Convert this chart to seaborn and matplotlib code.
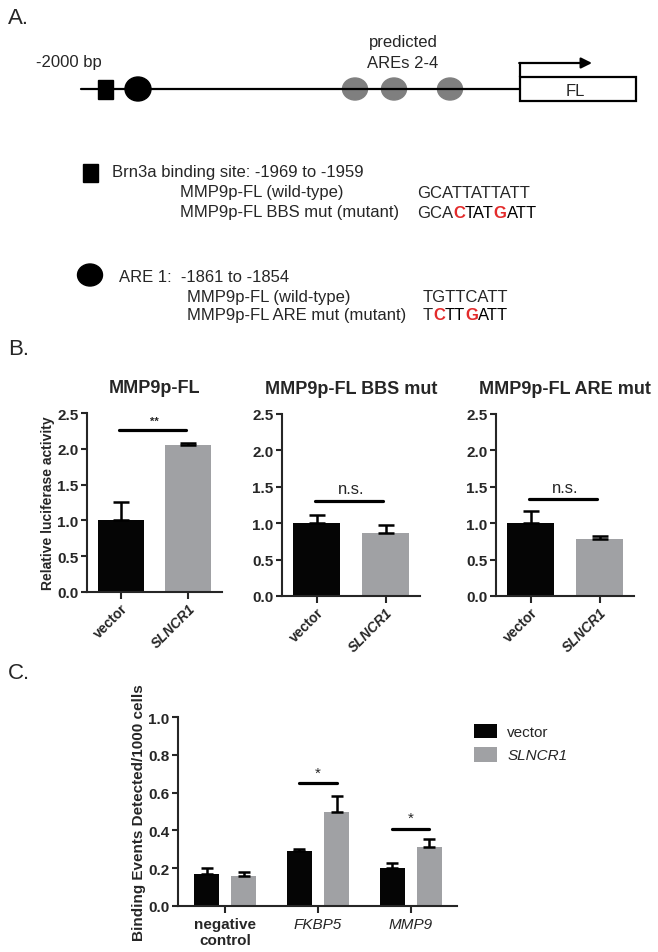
import numpy as np
import pandas as pd
import matplotlib
matplotlib.use('Agg')
import matplotlib.pyplot as plt
from matplotlib.patches import Rectangle, Ellipse
import seaborn as sns

# ---- data ----
groups = ['vector', 'SLNCR1']
panel_titles = ['MMP9p-FL', 'MMP9p-FL BBS mut', 'MMP9p-FL ARE mut']

fl_mean  = [1.00, 2.05]
fl_err   = [0.26, 0.03]
bbs_mean = [1.00, 0.86]
bbs_err  = [0.11, 0.12]
are_mean = [1.00, 0.78]
are_err  = [0.17, 0.04]

b_sig_y    = [2.26, 1.31, 1.33]
b_sig_text = ['**', 'n.s.', 'n.s.']

targets   = ['negative\ncontrol', 'FKBP5', 'MMP9']
vec_mean  = [0.17, 0.29, 0.20]
vec_err   = [0.03, 0.01, 0.03]
sl_mean   = [0.16, 0.50, 0.31]
sl_err    = [0.02, 0.08, 0.045]
c_sig_y   = [None, 0.65, 0.41]

BLACK = '#050505'
GREY = '#a0a1a4'
RED = '#e32b2b'

sns.set_style('ticks')
plt.rcParams['font.family'] = ['Liberation Sans', 'DejaVu Sans']
plt.rcParams['axes.linewidth'] = 1.5

W, H = 658, 953
fig = plt.figure(figsize=(W / 100, H / 100), dpi=100)


def px_axes(left, top, right, bottom):
    return fig.add_axes([left / W, 1 - bottom / H, (right - left) / W, (bottom - top) / H])


def add_errbars(ax, container, errs, cap):
    xs = [p.get_x() + p.get_width() / 2 for p in container]
    ys = [p.get_height() for p in container]
    ax.errorbar(xs, ys, yerr=[np.zeros(len(errs)), errs], fmt='none',
                ecolor='black', elinewidth=1.8, capsize=cap, capthick=1.8, zorder=3)
    return xs


# ---- panel B ----
b_boxes = [(87, 414, 222, 593), (282, 415, 420, 597), (496, 415, 634, 597)]
b_data = [(fl_mean, fl_err), (bbs_mean, bbs_err), (are_mean, are_err)]

for i, (box, (m, e)) in enumerate(zip(b_boxes, b_data)):
    ax = px_axes(*box)
    df = pd.DataFrame({'group': groups, 'value': m})
    sns.barplot(data=df, x='group', y='value', hue='group', palette=[BLACK, GREY],
                width=0.68, legend=False, ax=ax, errorbar=None, linewidth=0)
    xs = add_errbars(ax, ax.patches, e, 6)
    ax.set_ylim(0, 2.5)
    ax.set_xlim(-0.5, 1.5)
    ax.set_yticks(np.arange(0, 2.51, 0.5))
    ax.set_yticklabels([f'{t:.1f}' for t in np.arange(0, 2.51, 0.5)],
                       fontsize=11, fontweight='bold')
    ax.set_xlabel('')
    ax.set_ylabel('')
    ax.tick_params(axis='both', width=1.5, length=4.5, pad=1.5)
    ax.tick_params(axis='x', length=5)
    for lbl in ax.get_xticklabels():
        lbl.set_rotation(45)
        lbl.set_ha('right')
        lbl.set_rotation_mode('anchor')
        lbl.set_fontweight('bold')
        lbl.set_fontsize(10)
        if lbl.get_text() == 'SLNCR1':
            lbl.set_fontstyle('italic')
    sns.despine(ax=ax)
    ax.set_title(panel_titles[i], fontsize=13, fontweight='bold', pad=15)
    # significance bar
    ax.plot([xs[0] - 0.02, xs[1] - 0.03], [b_sig_y[i]] * 2, color='black', lw=2.3,
            clip_on=False)
    if b_sig_text[i] == '**':
        ax.text((xs[0] + xs[1]) / 2, b_sig_y[i] + 0.06, '**', ha='center', va='bottom',
                fontsize=8, fontweight='bold')
    else:
        ax.text((xs[0] + xs[1]) / 2, b_sig_y[i] + 0.06, b_sig_text[i], ha='center',
                va='bottom', fontsize=12)
    if i == 0:
        ax.set_ylabel('Relative luciferase activity', fontsize=10, fontweight='bold')
        ax.yaxis.set_label_coords(-0.24, 0.5)

# ---- panel C ----
axc = px_axes(178, 718, 457, 907)
cdf = pd.DataFrame({
    'target': targets * 2,
    'value': vec_mean + sl_mean,
    'condition': ['vector'] * 3 + ['SLNCR1'] * 3,
})
sns.barplot(data=cdf, x='target', y='value', hue='condition', palette=[BLACK, GREY],
            width=0.8, gap=0.32, errorbar=None, linewidth=0, ax=axc)
vx = add_errbars(axc, axc.containers[0], vec_err, 4)
sx = add_errbars(axc, axc.containers[1], sl_err, 4)
axc.set_ylim(0, 1.0)
axc.set_xlim(-0.51, 2.5)
yt = np.arange(0, 1.01, 0.2)
axc.set_yticks(yt)
axc.set_yticklabels([f'{t:.1f}' for t in yt], fontsize=11, fontweight='bold')
axc.set_xlabel('')
axc.set_ylabel('Binding Events Detected/1000 cells', fontsize=11, fontweight='bold')
axc.yaxis.set_label_coords(-0.115, 0.5)
axc.tick_params(axis='both', width=1.5, length=4.5, pad=1.5)
axc.tick_params(axis='x', length=5, pad=3)
for lbl in axc.get_xticklabels():
    lbl.set_fontsize(11)
    if lbl.get_text().startswith('negative'):
        lbl.set_fontweight('bold')
    else:
        lbl.set_fontstyle('italic')
sns.despine(ax=axc)
for j, y in enumerate(c_sig_y):
    if y is None:
        continue
    axc.plot([vx[j], sx[j]], [y, y], color='black', lw=2.3, clip_on=False)
    axc.text((vx[j] + sx[j]) / 2, y + 0.02, '*', ha='center', va='bottom', fontsize=11)

leg = axc.legend(loc='upper left', bbox_to_anchor=(460 / W, 1 - 711 / H),
                 bbox_transform=fig.transFigure, frameon=False, fontsize=11,
                 handlelength=1.5, handleheight=1.1, handletextpad=0.7, labelspacing=0.5)
for t in leg.get_texts():
    if t.get_text() == 'SLNCR1':
        t.set_fontstyle('italic')

# ---- overlay: panel A schematic and labels ----
ov = fig.add_axes([0, 0, 1, 1])
ov.set_xlim(0, W)
ov.set_ylim(H, 0)
ov.axis('off')

ov.text(8, 18, 'A.', fontsize=16, va='center')
ov.text(8, 350, 'B.', fontsize=16, va='center')
ov.text(8, 674, 'C.', fontsize=16, va='center')

ov.text(36, 63, '-2000 bp', fontsize=12, va='center')
ov.text(403, 43, 'predicted', fontsize=12, va='center', ha='center')
ov.text(403, 63, 'AREs 2-4', fontsize=12, va='center', ha='center')

ov.plot([81, 520], [90, 90], color='black', lw=1.6)
ov.add_patch(Rectangle((98, 81), 15, 19, color='black'))
ov.add_patch(Ellipse((138, 90), 26, 24, color='black'))
for cx in [355, 394, 450]:
    ov.add_patch(Ellipse((cx, 90), 25, 22, color='#7f7f7f'))
ov.add_patch(Rectangle((520, 78), 116, 24, fill=False, edgecolor='black', lw=1.6))
ov.text(575, 91, 'FL', fontsize=12, ha='center', va='center')
ov.plot([520, 520], [78, 64], color='black', lw=1.6)
ov.annotate('', xy=(592, 64), xytext=(519.2, 64),
            arrowprops=dict(arrowstyle='-|>', color='black', lw=1.6, mutation_scale=16,
                            shrinkA=0, shrinkB=0))


def draw_seq(x, y, pieces):
    prev = ov.text(x, y, pieces[0][0], fontsize=12, va='center')
    for s, mut in pieces[1:]:
        prev = ov.annotate(s, xy=(1, 0), xycoords=prev, va='bottom', ha='left',
                           fontsize=12, color=RED if mut else 'black',
                           fontweight='bold' if mut else 'normal')


ov.add_patch(Rectangle((83, 165), 15, 18, color='black'))
ov.text(112, 173, 'Brn3a binding site: -1969 to -1959', fontsize=12, va='center')
ov.text(180, 193, 'MMP9p-FL (wild-type)', fontsize=12, va='center')
ov.text(417, 193, 'GCATTATTATT', fontsize=12, va='center')
ov.text(180, 213, 'MMP9p-FL BBS mut (mutant)', fontsize=12, va='center')
draw_seq(417, 213, [('GCA', False), ('C', True), ('TAT', False), ('G', True), ('ATT', False)])

ov.add_patch(Ellipse((90, 276), 25, 22, color='black'))
ov.text(119, 278, 'ARE 1:  -1861 to -1854', fontsize=12, va='center')
ov.text(187, 298, 'MMP9p-FL (wild-type)', fontsize=12, va='center')
ov.text(423, 298, 'TGTTCATT', fontsize=12, va='center')
ov.text(187, 316, 'MMP9p-FL ARE mut (mutant)', fontsize=12, va='center')
draw_seq(423, 316, [('T', False), ('C', True), ('TT', False), ('G', True), ('ATT', False)])

fig.savefig('out.png', dpi=100)
